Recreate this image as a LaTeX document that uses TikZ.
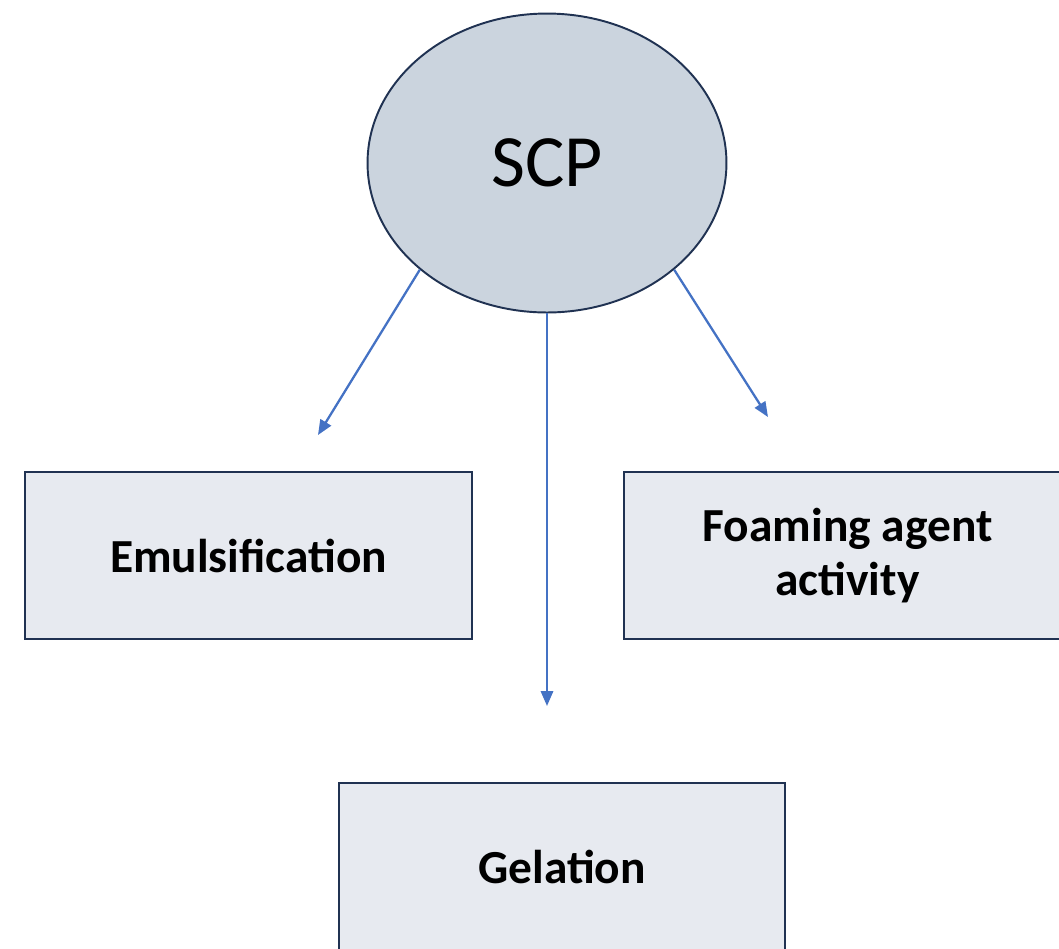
\documentclass[tikz,border=0pt]{standalone}
\usepackage{fontspec}
\setmainfont{Carlito}
\usepackage{tikz}
\usetikzlibrary{shapes.geometric, arrows.meta, positioning}

\definecolor{scpfill}{RGB}{203,212,222}
\definecolor{boxfill}{RGB}{231,234,240}
\definecolor{navyline}{RGB}{32,50,82}
\definecolor{arrowblue}{RGB}{68,114,196}

\begin{document}
\begin{tikzpicture}[x=0.02cm, y=-0.02cm, >={Triangle[length=8.5pt, width=7pt]},
	propbox/.style={draw=navyline, line width=1.1pt, fill=boxfill,
		minimum width=8.94cm, minimum height=3.34cm, align=center,
		font=\fontsize{27}{30.5}\selectfont\bfseries},
	link/.style={->, arrowblue, line width=1.3pt}]
				% === RAMKA (wymiary obrazu) ===
				\useasboundingbox (0,0) rectangle (1059,948);
				\clip (0,0) rectangle (1059,948);
				
				% === SCP ===
				\node[ellipse, draw=navyline, line width=1.1pt, fill=scpfill,
				minimum width=7.18cm, minimum height=5.98cm,
				font=\fontsize{42}{46}\selectfont] (scp) at (547,163) {SCP};
				
				% === WŁAŚCIWOŚCI ===
				\node[propbox] (emul) at (248.5,555.5) {Emulsification};
				\node[propbox] (foam) at (847.5,555.5) {Foaming agent\\activity};
				\node[propbox] (gel) at (562,866.5) {Gelation};
				
				% === KOŃCE STRZAŁEK ===
				\coordinate (emulTip) at (318,435);
				\coordinate (foamTip) at (768,417);
				\coordinate (gelTip) at (547,706);
				
				% === STRZAŁKI ===
				\draw[link] (scp.220) -- (emulTip);
				\draw[link] (scp.south) -- (gelTip);
				\draw[link] (scp.320) -- (foamTip);
				
			\end{tikzpicture}
\end{document}
